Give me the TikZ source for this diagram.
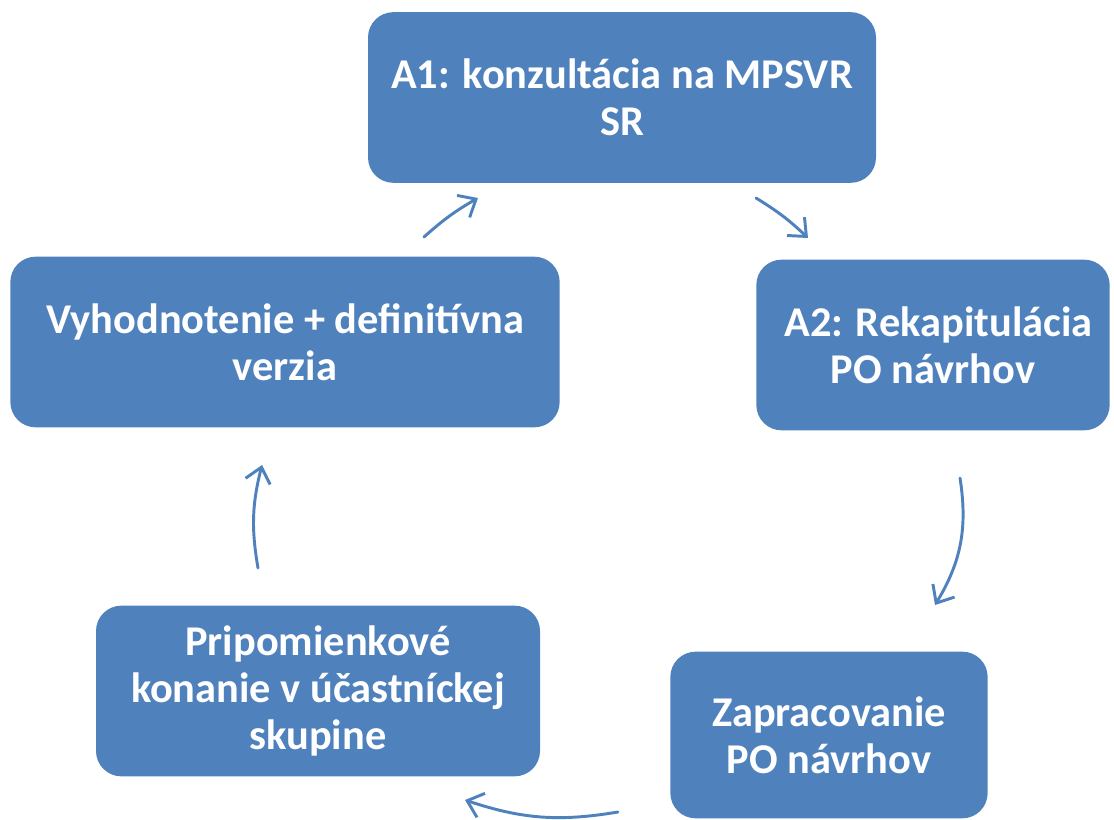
\documentclass[tikz,border=0pt]{standalone}
\usepackage{fontspec}
\setmainfont{Carlito}
\usepackage{xcolor}
\usepackage{tikz}
\usetikzlibrary{arrows.meta}
\definecolor{cycleblue}{HTML}{4F81BD}

\begin{document}
\begin{tikzpicture}[
  x=0.75pt, y=-0.75pt,
  phase/.style={draw=none, rounded corners=19pt, fill=cycleblue, text=white, align=center, font=\fontsize{31.8}{35.5}\selectfont\bfseries, inner sep=0pt},
  arrow/.style={-{Straight Barb[length=11pt,width=19pt]}, draw=cycleblue, line width=2.2pt, line cap=round}
]
\useasboundingbox (0,0) rectangle (1114,820);
\node[phase, minimum width=381pt, minimum height=128pt] (konz) at (622,97.5) {A1: konzultácia na MPSVR\\SR};
\node[phase, minimum width=265pt, minimum height=128pt] (rekap) at (933,345) {\hspace*{8pt}A2: Rekapitulácia\\PO návrhov};
\node[phase, minimum width=238pt, minimum height=125pt] (zapr) at (829,735) {Zapracovanie\\PO návrhov};
\node[phase, minimum width=333pt, minimum height=128pt] (prip) at (318,691) {Pripomienkové\\konanie v účastníckej\\skupine};
\node[phase, minimum width=412pt, minimum height=128pt] (vyhod) at (285,342) {Vyhodnotenie + definitívna\\verzia};
% free arrow ends between the phases
\coordinate (vyhodout) at (424,237);
\coordinate (konzin) at (478,198);
\coordinate (konzout) at (756,198);
\coordinate (rekapin) at (808,238);
\coordinate (rekapout) at (960,478);
\coordinate (zaprin) at (935,605);
\coordinate (zaprout) at (618,812);
\coordinate (pripin) at (465,800);
\coordinate (pripout) at (258,568);
\coordinate (vyhodin) at (262,465);
\draw[arrow] (vyhodout) to[bend left=6] (konzin);
\draw[arrow] (konzout) to[bend left=6] (rekapin);
\draw[arrow] (rekapout) to[bend left=20] (zaprin);
\draw[arrow] (zaprout) to[bend left=14] (pripin);
\draw[arrow] (pripout) to[bend left=12] (vyhodin);
\end{tikzpicture}
\end{document}
